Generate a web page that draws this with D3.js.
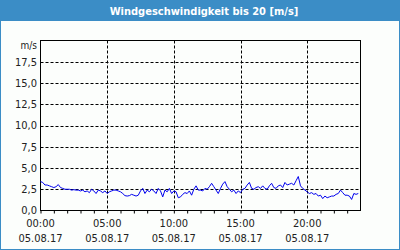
<!DOCTYPE html>
<html>
<head>
<meta charset="utf-8">
<script src="https://cdn.jsdelivr.net/npm/d3@7"></script>
<style>
  html, body { margin: 0; padding: 0; background: #fcfefc; }
  svg { display: block; }
</style>
</head>
<body>
<div id="chart"></div>
<script>
const title = "Windgeschwindigkeit bis 20 [m/s]";
const unit = "m/s";
const yTicks = [0, 2.5, 5, 7.5, 10, 12.5, 15, 17.5];
const xLabelHours = [0, 5, 10, 15, 20];
const dateLabel = "05.08.17";
// wind speed every 10 minutes, 00:00 .. 23:50
const speed = [
  3.4, 3.3, 3.0, 3.0, 2.9, 2.8,
  2.7, 2.8, 3.05, 2.7, 2.6, 2.5,
  2.5, 2.5, 2.4, 2.45, 2.4, 2.4,
  2.3, 2.4, 2.2, 2.3, 2.1, 2.5,
  2.3, 2.0, 2.4, 2.3, 2.1, 2.3,
  2.0, 2.2, 2.3, 2.4, 2.4, 2.3,
  2.2, 2.0, 1.75, 1.7, 1.75, 1.9,
  1.8, 1.7, 1.8, 2.3, 2.6, 2.0,
  2.4, 2.2, 2.5, 2.3, 2.0, 2.6,
  2.3, 1.6, 2.4, 2.2, 2.6, 2.0,
  2.3, 2.2, 1.5, 1.6, 1.9, 2.1,
  2.0, 2.3, 1.8, 2.5, 2.9, 2.4,
  2.4, 2.3, 2.6, 2.5, 2.8, 3.2,
  2.8, 2.4, 2.0, 2.6, 3.1, 3.4,
  2.8, 2.5, 2.2, 2.4, 2.0, 2.3,
  2.1, 2.5, 2.6, 3.0, 3.3, 2.6,
  2.5, 2.7, 2.8, 2.6, 2.9, 2.6,
  2.5, 2.9, 3.2, 2.7, 2.6, 2.9,
  3.0, 2.7, 3.3, 3.0, 3.1, 3.2,
  3.0, 3.5, 4.0, 2.9, 2.6, 2.4,
  2.2, 2.0, 2.1, 1.9, 2.0, 1.7,
  1.8, 1.4, 1.7, 1.5, 1.6, 1.7,
  1.7, 1.9, 2.0, 2.4, 2.1, 1.8,
  1.8, 1.7, 1.3, 2.0, 1.9, 2.0
];

const width = 400, height = 250;
const font = "'DejaVu Sans Condensed', 'DejaVu Sans', sans-serif";

const svg = d3.select("#chart").append("svg")
    .attr("width", width)
    .attr("height", height)
    .style("font-family", font);

// outer blue frame + title bar
svg.append("rect")
    .attr("x", 0.5).attr("y", 0.5)
    .attr("width", width - 1).attr("height", height - 1)
    .attr("fill", "#fcfefc")
    .attr("stroke", "#3b8dc6");
svg.append("rect")
    .attr("x", 0).attr("y", 0)
    .attr("width", width).attr("height", 21)
    .attr("fill", "#3b8dc6");
svg.append("text")
    .attr("x", 204).attr("y", 15)
    .attr("text-anchor", "middle")
    .attr("fill", "#fff")
    .style("font-weight", "bold")
    .style("font-size", "11px")
    .text(title);

const x = d3.scaleLinear().domain([0, 24]).range([40.5, 360.5]);
const y = d3.scaleLinear().domain([0, 20]).range([210.5, 40.5]);

const g = svg.append("g");

// horizontal grid
g.append("g")
  .selectAll("line")
  .data(yTicks.slice(1))
  .join("line")
    .attr("x1", x(0)).attr("x2", x(24))
    .attr("y1", d => Math.round(y(d)) + 0.5)
    .attr("y2", d => Math.round(y(d)) + 0.5)
    .attr("stroke", "#000")
    .attr("stroke-dasharray", "3,2");

// vertical grid
g.append("g")
  .selectAll("line")
  .data(xLabelHours.slice(1))
  .join("line")
    .attr("x1", d => Math.round(x(d)) + 0.5)
    .attr("x2", d => Math.round(x(d)) + 0.5)
    .attr("y1", y(20)).attr("y2", y(0))
    .attr("stroke", "#000")
    .attr("stroke-dasharray", "3,2");

// hourly ticks below axis
const xAxis = d3.axisBottom(x)
    .tickValues(d3.range(0, 24))
    .tickSize(3)
    .tickFormat("");
g.append("g")
    .attr("transform", `translate(0,${y(0)})`)
    .call(xAxis)
    .call(s => s.select(".domain").remove());

// plot frame
g.append("rect")
    .attr("x", x(0)).attr("y", y(20))
    .attr("width", x(24) - x(0)).attr("height", y(0) - y(20))
    .attr("fill", "none")
    .attr("stroke", "#000");

// y labels
g.append("g")
  .selectAll("text")
  .data(yTicks)
  .join("text")
    .attr("x", 37)
    .attr("y", d => y(d))
    .attr("dy", "0.35em")
    .attr("text-anchor", "end")
    .attr("fill", "#222")
    .style("font-size", "11px")
    .text(d => d3.format(".1f")(d).replace(".", ","));

svg.append("text")
    .attr("x", 37).attr("y", 45)
    .attr("dy", "0.35em")
    .attr("text-anchor", "end")
    .attr("fill", "#222")
    .style("font-size", "10px")
    .text(unit);

// x labels
const xl = g.append("g")
  .selectAll("g")
  .data(xLabelHours)
  .join("g")
    .attr("transform", d => `translate(${x(d)},0)`);
xl.append("text")
    .attr("y", 227)
    .attr("text-anchor", "middle")
    .attr("fill", "#222")
    .style("font-size", "11px")
    .text(d => d3.format("02")(d) + ":00");
xl.append("text")
    .attr("y", 242)
    .attr("text-anchor", "middle")
    .attr("fill", "#222")
    .style("font-size", "11px")
    .text(dateLabel);

// data line
const line = d3.line()
    .x((d, i) => x(i / 6))
    .y(d => y(d));
g.append("path")
    .datum(speed)
    .attr("fill", "none")
    .attr("stroke", "#0000ee")
    .attr("stroke-width", 1)
    .attr("d", line);
</script>
</body>
</html>
